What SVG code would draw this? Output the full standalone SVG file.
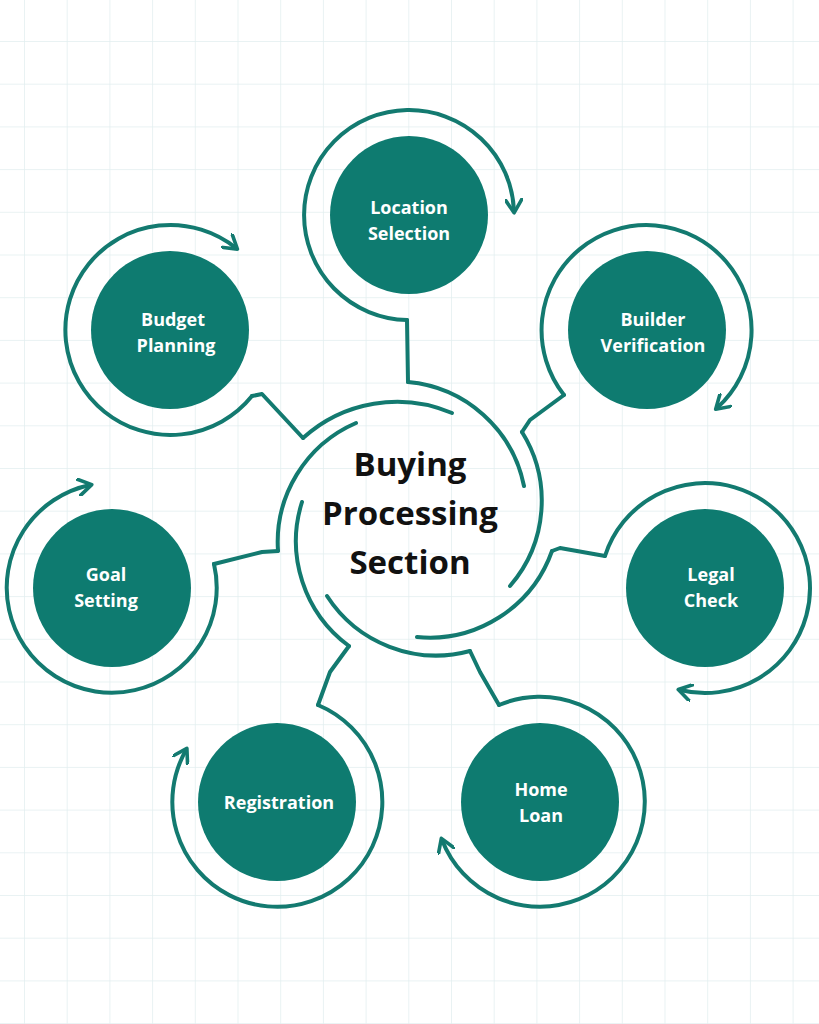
<svg xmlns="http://www.w3.org/2000/svg" width="819" height="1024" viewBox="0 0 819 1024">
<defs>
<pattern id="grid" x="24" y="41" width="42.7" height="42.7" patternUnits="userSpaceOnUse">
<path d="M0,0 H42.7 M0,0 V42.7" fill="none" stroke="#e2eef0" stroke-width="1.5"/>
</pattern>
<marker id="chev" viewBox="0 0 10 10" refX="7" refY="5" markerWidth="4.5" markerHeight="4.5" orient="auto" markerUnits="strokeWidth">
<path d="M0,0 L8,5 L0,10" fill="none" stroke="#137a70" stroke-width="2" stroke-linecap="round" stroke-linejoin="round"/>
</marker>
<style>
.ln{fill:none;stroke:#137a70;stroke-width:4;stroke-linecap:round;stroke-linejoin:round}
.ring{fill:none;stroke:#137a70;stroke-width:4;stroke-linecap:round;marker-end:url(#chev)}
.node{fill:#0e7b70}
.lbl{font-family:"Open Sans","Liberation Sans",sans-serif;font-weight:bold;font-size:18px;fill:#fff;text-anchor:middle}
.ctr{font-family:"Open Sans","Liberation Sans",sans-serif;font-weight:bold;font-size:33px;fill:#111;text-anchor:middle}
</style>
</defs>
<rect width="819" height="1024" fill="#fff"/>
<rect width="819" height="1024" fill="url(#grid)"/>
<g id="connectors">
<path class="ln" d="M303,438 A140,140 0 0 1 452,413"/>
<path class="ln" d="M408,382 A130,130 0 0 1 524,486"/>
<path class="ln" d="M522,432 A130,130 0 0 1 510,586"/>
<path class="ln" d="M552,551 A130,130 0 0 1 417,637"/>
<path class="ln" d="M470,651 A130,130 0 0 1 327,596"/>
<path class="ln" d="M349,646 A130,130 0 0 1 302,502"/>
<path class="ln" d="M278,551 A130,130 0 0 1 356,423"/>
<polyline class="ln" points="407,320 408,382"/>
<polyline class="ln" points="564,395 530,420 522,432"/>
<polyline class="ln" points="605,556 560,548 552,551"/>
<polyline class="ln" points="499,705 480,672 470,651"/>
<polyline class="ln" points="318,705 330,672 349,646"/>
<polyline class="ln" points="214,564 262,552 278,551"/>
<polyline class="ln" points="252,396 262,394 303,438"/>
</g>
<g id="center">
<text class="ctr" x="410" y="476">Buying</text>
<text class="ctr" x="410" y="525">Processing</text>
<text class="ctr" x="410" y="574">Section</text>
</g>
<g id="location">
<path class="ring" d="M407,320 A105,105 0 1 1 514,211"/>
<circle class="node" cx="409" cy="215" r="79"/>
<text class="lbl" x="409" y="214">Location</text><text class="lbl" x="409" y="240">Selection</text>
</g>
<g id="budget">
<path class="ring" d="M252,396 A105,105 0 1 1 236,248"/>
<circle class="node" cx="170" cy="330" r="79"/>
<text class="lbl" x="173" y="326">Budget</text><text class="lbl" x="176" y="352">Planning</text>
</g>
<g id="builder">
<path class="ring" d="M564,395 A105,105 0 1 1 717,408"/>
<circle class="node" cx="647" cy="330" r="79"/>
<text class="lbl" x="653" y="326">Builder</text><text class="lbl" x="653" y="352">Verification</text>
</g>
<g id="legal">
<path class="ring" d="M605,556 A105,105 0 1 1 680,690"/>
<circle class="node" cx="705" cy="588" r="79"/>
<text class="lbl" x="711" y="581">Legal</text><text class="lbl" x="711" y="607">Check</text>
</g>
<g id="homeloan">
<path class="ring" d="M499,705 A105,105 0 1 1 442,840"/>
<circle class="node" cx="540" cy="802" r="79"/>
<text class="lbl" x="541" y="796">Home</text><text class="lbl" x="541" y="822">Loan</text>
</g>
<g id="registration">
<path class="ring" d="M318,705 A105,105 0 1 1 186,750"/>
<circle class="node" cx="277" cy="802" r="79"/>
<text class="lbl" x="279" y="809">Registration</text>
</g>
<g id="goal">
<path class="ring" d="M214,564 A105,105 0 1 1 90,485"/>
<circle class="node" cx="112" cy="588" r="79"/>
<text class="lbl" x="106" y="581">Goal</text><text class="lbl" x="106" y="607">Setting</text>
</g>
</svg>
